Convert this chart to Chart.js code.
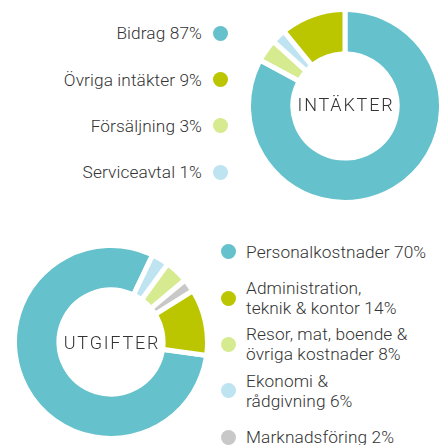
<!DOCTYPE html>
<html>
<head>
<meta charset="utf-8">
<script src="https://cdn.jsdelivr.net/npm/chart.js@4.4.1/dist/chart.umd.min.js"></script>
<style>
  html, body { margin: 0; padding: 0; background: #fff; }
  body { width: 446px; height: 445px; position: relative; overflow: hidden;
         font-family: Roboto, "DejaVu Sans", sans-serif; font-weight: 300; color: #333; }
  canvas { position: absolute; }
  #incomeChart { left: 246px; top: 7px; }
  #expenseChart { left: 12px; top: 243px; }
  .center-label { position: absolute; width: 130px; text-align: center;
                  font-size: 18px; letter-spacing: 1.8px; line-height: 20px; }
  .legend { position: absolute; font-size: 17.3px; line-height: 20px; letter-spacing: 0.1px; }
  .legend .row { display: flex; align-items: center; height: 46.4px; }
  .legend .dot { width: 15px; height: 15px; border-radius: 50%; flex: none; }
  .legend .txt { white-space: pre-line; }
  #incomeLegend { right: 218.5px; top: 10px; }
  #incomeLegend .row { justify-content: flex-end; }
  #incomeLegend .txt { text-align: right; margin-right: 10.5px; }
  #expenseLegend { left: 221px; top: 228.5px; }
  #expenseLegend .txt { margin-left: 10px; }
</style>
</head>
<body>
<canvas id="incomeChart" width="198" height="198"></canvas>
<canvas id="expenseChart" width="198" height="198"></canvas>
<div class="center-label" style="left:281px; top:95px;">INTÄKTER</div>
<div class="center-label" style="left:47px; top:333px;">UTGIFTER</div>
<div class="legend" id="incomeLegend"></div>
<div class="legend" id="expenseLegend"></div>

<script>
// Intäkter (legend order)
const incomeLabels = ["Bidrag 87%", "Övriga intäkter 9%", "Försäljning 3%", "Serviceavtal 1%"];
const incomeValues = [82.9, 10.9, 3.8, 2.4]; // slice sizes as drawn
const incomeColors = ["#65c1cb", "#bbc500", "#d6ea8f", "#bee3f1"];
const incomeRingOrder = [0, 2, 3, 1]; // clockwise from 12 o'clock

// Utgifter (legend order)
const expenseLabels = [
  "Personalkostnader 70%",
  "Administration,\nteknik & kontor 14%",
  "Resor, mat, boende &\növriga kostnader 8%",
  "Ekonomi &\nrådgivning 6%",
  "Marknadsföring 2%",
];
const expenseValues = [79.8, 11.1, 3.9, 2.9, 2.2];
const expenseColors = ["#65c1cb", "#bbc500", "#d6ea8f", "#bee3f1", "#c8c8c8"];
const expenseRingOrder = [0, 3, 2, 4, 1];

function makeDoughnut(canvasId, labels, values, colors, order, rotation) {
  const ctx = document.getElementById(canvasId).getContext("2d");
  return new Chart(ctx, {
    type: "doughnut",
    data: {
      labels: order.map((i) => labels[i]),
      datasets: [
        {
          data: order.map((i) => values[i]),
          backgroundColor: order.map((i) => colors[i]),
          borderColor: "#ffffff",
          borderWidth: 5,
          borderRadius: 3,
          hoverOffset: 0,
        },
      ],
    },
    options: {
      responsive: false,
      animation: false,
      cutout: "54%",
      rotation: rotation,
      layout: { padding: 0 },
      plugins: {
        legend: { display: false },
        tooltip: { enabled: false },
      },
    },
  });
}

function buildLegend(elId, labels, colors, dotFirst) {
  const el = document.getElementById(elId);
  labels.forEach((label, i) => {
    const row = document.createElement("div");
    row.className = "row";
    const dot = document.createElement("span");
    dot.className = "dot";
    dot.style.background = colors[i];
    const txt = document.createElement("span");
    txt.className = "txt";
    txt.textContent = label;
    if (dotFirst) {
      row.appendChild(dot);
      row.appendChild(txt);
    } else {
      row.appendChild(txt);
      row.appendChild(dot);
    }
    el.appendChild(row);
  });
}

makeDoughnut("incomeChart", incomeLabels, incomeValues, incomeColors, incomeRingOrder, 0);
makeDoughnut("expenseChart", expenseLabels, expenseValues, expenseColors, expenseRingOrder, 98);
buildLegend("incomeLegend", incomeLabels, incomeColors, false);
buildLegend("expenseLegend", expenseLabels, expenseColors, true);
</script>
</body>
</html>
